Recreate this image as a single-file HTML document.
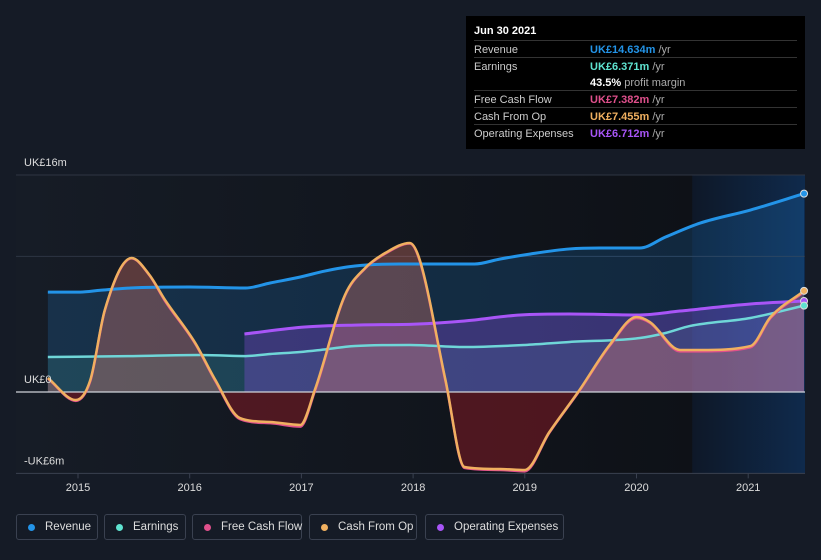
<!DOCTYPE html>
<html><head><meta charset="utf-8"><style>
body{margin:0;background:#151b26;font-family:"Liberation Sans",sans-serif;}
#wrap{position:relative;width:821px;height:560px;overflow:hidden;background:#151b26;}
.tt{position:absolute;left:466px;top:16px;width:339px;height:133px;background:#000;color:#fff;font-size:11px;}
.tt .row{position:absolute;left:8px;width:323px;height:17px;border-top:1px solid #333;}
.tt .k{position:absolute;left:0;top:3px;color:#ccc}
.tt .v{position:absolute;left:116px;top:3px;font-weight:bold}
.tt .v span{color:#aaa;font-weight:normal}
.legend{position:absolute;top:514px;height:26px;border:1px solid #3a4150;border-radius:3px;color:#ddd;font-size:11.5px;line-height:24px;box-sizing:border-box;padding-left:28px;white-space:nowrap}
.legend i{position:absolute;left:11px;top:9px;width:7px;height:7px;border-radius:50%}
</style></head><body>
<div id="wrap">
<svg id="chart" width="821" height="560" style="position:absolute;left:0;top:0"></svg>
<div class="tt">
 <div style="position:absolute;left:8px;top:9px;font-weight:bold;font-size:11px">Jun 30 2021</div>
 <div class="row" style="top:24px"><span class="k">Revenue</span><span class="v" style="color:#2394e8">UK£14.634m <span>/yr</span></span></div>
 <div class="row" style="top:41px"><span class="k">Earnings</span><span class="v" style="color:#5fe3d0">UK£6.371m <span>/yr</span></span></div>
 <div class="row" style="top:58px;border-top:none"><span class="v" style="color:#fff">43.5% <span>profit margin</span></span></div>
 <div class="row" style="top:74px"><span class="k">Free Cash Flow</span><span class="v" style="color:#e0508c">UK£7.382m <span>/yr</span></span></div>
 <div class="row" style="top:91px"><span class="k">Cash From Op</span><span class="v" style="color:#f0b060">UK£7.455m <span>/yr</span></span></div>
 <div class="row" style="top:108px"><span class="k">Operating Expenses</span><span class="v" style="color:#a855f7">UK£6.712m <span>/yr</span></span></div>
</div>
<div class="legend" style="left:16px;width:82px"><i style="background:#2394e8"></i>Revenue</div>
<div class="legend" style="left:104px;width:82px"><i style="background:#5fe3d0"></i>Earnings</div>
<div class="legend" style="left:192px;width:110px"><i style="background:#e0508c"></i>Free Cash Flow</div>
<div class="legend" style="left:309px;width:108px"><i style="background:#f0b060"></i>Cash From Op</div>
<div class="legend" style="left:425px;width:139px"><i style="background:#a855f7"></i>Operating Expenses</div>
</div>
<script>
const yearTicks=[2015,2016,2017,2018,2019,2020,2021];
const revT=[2014.73,2015.02,2015.2,2015.47,2016.0,2016.5,2016.72,2016.99,2017.21,2017.48,2017.88,2018.55,2018.78,2019.05,2019.4,2019.67,2020.03,2020.26,2020.57,2021.02,2021.5];
const revV=[7.37,7.37,7.5,7.67,7.74,7.67,8.04,8.48,8.92,9.29,9.44,9.44,9.81,10.18,10.55,10.62,10.62,11.43,12.46,13.42,14.63];
const earnT=[2014.73,2015.47,2016.09,2016.5,2016.72,2016.99,2017.17,2017.48,2017.97,2018.46,2019.0,2019.4,2020.03,2020.26,2020.48,2021.02,2021.5];
const earnV=[2.58,2.65,2.73,2.65,2.80,2.95,3.10,3.39,3.47,3.32,3.47,3.69,3.98,4.35,4.87,5.46,6.37];
const opexT=[2016.49,2017.03,2017.52,2018.02,2018.46,2018.96,2019.4,2020.03,2020.39,2021.02,2021.5];
const opexV=[4.28,4.79,4.94,5.01,5.24,5.68,5.75,5.68,5.97,6.49,6.71];
const cashT=[2014.73,2014.98,2015.11,2015.24,2015.48,2015.64,2015.78,2016.05,2016.23,2016.45,2016.72,2016.99,2017.12,2017.39,2017.57,2017.75,2017.97,2018.06,2018.29,2018.46,2018.78,2019.0,2019.22,2019.49,2019.76,2020.0,2020.12,2020.39,2020.57,2021.02,2021.2,2021.5];
const cfoV=[1.03,-0.59,0.88,6.05,9.88,8.63,6.78,3.61,0.88,-1.92,-2.21,-2.43,0.15,7.15,9.14,10.25,10.99,9.73,0.88,-5.53,-5.68,-5.75,-2.95,0.15,3.47,5.53,5.16,3.10,3.10,3.39,5.53,7.46];
const fcfV=[1.0,-0.65,0.8,6.0,9.85,8.6,6.7,3.55,0.8,-2.0,-2.3,-2.55,0.05,7.1,9.1,10.2,10.95,9.65,0.8,-5.6,-5.75,-5.85,-3.0,0.1,3.4,5.45,5.1,3.0,3.0,3.3,5.45,7.38];
const yLabels=[{v:16,t:"UK£16m"},{v:0,t:"UK£0"},{v:-6,t:"-UK£6m"}];

const NS="http://www.w3.org/2000/svg",svg=document.getElementById('chart');
const X=t=>78+(t-2015)*111.7, Y=v=>392-v*13.56;
function el(tag,a,p){const e=document.createElementNS(NS,tag);for(const k in a)e.setAttribute(k,a[k]);(p||svg).appendChild(e);return e;}
function pts(T,V){return T.map((t,i)=>[X(t),Y(V[i])]);}
function smooth(P){const n=P.length,d=[],m=[];
for(let i=0;i<n-1;i++)d.push((P[i+1][1]-P[i][1])/(P[i+1][0]-P[i][0]));
for(let i=0;i<n;i++){if(i==0)m.push(d[0]);else if(i==n-1)m.push(d[n-2]);else m.push(d[i-1]*d[i]<=0?0:(d[i-1]+d[i])/2);}
for(let i=0;i<n-1;i++){if(d[i]==0){m[i]=0;m[i+1]=0;continue;}const a=m[i]/d[i],b=m[i+1]/d[i],s=a*a+b*b;if(s>9){const t=3/Math.sqrt(s);m[i]=t*a*d[i];m[i+1]=t*b*d[i];}}
let s="M"+P[0][0]+","+P[0][1];
for(let i=0;i<n-1;i++){const h=(P[i+1][0]-P[i][0])/3;s+=" C"+(P[i][0]+h)+","+(P[i][1]+m[i]*h)+" "+(P[i+1][0]-h)+","+(P[i+1][1]-m[i+1]*h)+" "+P[i+1][0]+","+P[i+1][1];}
return s;}
function area(P){return smooth(P)+" L"+P[P.length-1][0]+","+Y(0)+" L"+P[0][0]+","+Y(0)+"Z";}
const defs=el('defs',{});
const g=el('linearGradient',{id:'bg',x1:0,x2:1,y1:0,y2:0},defs);
el('stop',{offset:0,'stop-color':'#161c26'},g);el('stop',{offset:1,'stop-color':'#0e1117'},g);
const g2=el('linearGradient',{id:'fc',x1:0,x2:1,y1:0,y2:0},defs);
el('stop',{offset:0,'stop-color':'#0e1828'},g2);el('stop',{offset:1,'stop-color':'#0f2a4c'},g2);
const c1=el('clipPath',{id:'pos'},defs);el('rect',{x:0,y:0,width:821,height:Y(0)},c1);
const c2=el('clipPath',{id:'neg'},defs);el('rect',{x:0,y:Y(0),width:821,height:200},c2);
let r=el('rect',{x:16,y:Y(16),width:X(2020.5)-16,height:Y(-6)-Y(16),fill:'url(#bg)'});
r=el('rect',{x:X(2020.5),y:Y(16),width:805-X(2020.5),height:Y(-6)-Y(16),fill:'url(#fc)'});
[16,10].forEach(v=>{const l=el('line',{x1:16,x2:805,y1:Y(v),y2:Y(v),stroke:'#2e3543','stroke-width':1});});
let l=el('line',{x1:16,x2:805,y1:Y(-6),y2:Y(-6),stroke:'#3a4150'});
const R=pts(revT,revV),E=pts(earnT,earnV),O=pts(opexT,opexV),C=pts(cashT,cfoV),F=pts(cashT,fcfV);
let p=el('path',{d:area(R),fill:'rgba(33,150,243,0.18)'});
p=el('path',{d:area(E),fill:'rgba(90,220,200,0.12)'});
p=el('path',{d:area(O),fill:'rgba(150,80,240,0.3)'});
p=el('path',{d:area(C),fill:'rgba(220,120,110,0.35)','clip-path':'url(#pos)'});
p=el('path',{d:area(C),fill:'rgba(120,25,35,0.6)','clip-path':'url(#neg)'});
l=el('line',{x1:16,x2:805,y1:Y(0),y2:Y(0),stroke:'#cfd3da','stroke-width':1.2});
p=el('path',{d:smooth(R),fill:'none',stroke:'#2394e8','stroke-width':3});
p=el('path',{d:smooth(E),fill:'none',stroke:'#6fd6d8','stroke-width':2.5});
p=el('path',{d:smooth(O),fill:'none',stroke:'#a855f7','stroke-width':3});
p=el('path',{d:smooth(F),fill:'none',stroke:'#e0508c','stroke-width':2.5});
p=el('path',{d:smooth(C),fill:'none',stroke:'#f0b060','stroke-width':2.5});
[[C,'#f0b060'],[O,'#a855f7'],[E,'#5fe3d0'],[R,'#2394e8']].forEach(([P,c])=>{const q=P[P.length-1];const d=el('circle',{cx:q[0],cy:q[1],r:3.5,fill:c,stroke:'#ddd','stroke-width':1});});
yearTicks.forEach(y=>{const t=el('line',{x1:X(y),x2:X(y),y1:Y(-6),y2:Y(-6)+5,stroke:'#3a4150'});
const tx=el('text',{x:X(y),y:491,'text-anchor':'middle',fill:'#ddd','font-size':11});tx.textContent=y;});
yLabels.forEach(o=>{const tx=el('text',{x:24,y:Y(o.v)-9,fill:'#ddd','font-size':11});tx.textContent=o.t;});
</script>
</body></html>
